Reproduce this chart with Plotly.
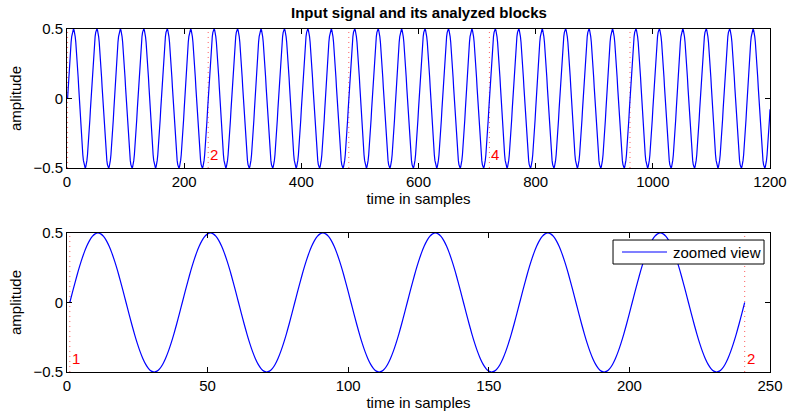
import numpy as np
import plotly.graph_objects as go

# --- data ---
n_samples = 1200
period = 40          # samples per cycle
amplitude = 0.5
block_len = 240
block_starts = [1, 241, 481, 721, 961]
top_labels = ["2", "4"]
top_label_x = [241, 721]
zoom_label = ["1", "2"]
zoom_label_x = [1, 241]
label_y = -0.4
legend_text = "zoomed view"

t = np.arange(1, n_samples + 1)
signal = amplitude * np.sin(2 * np.pi * (t - 1) / period)
t_zoom = t[:block_len + 1]
sig_zoom = signal[:block_len + 1]

fig = go.Figure()

blue = "#0000ff"
red = "#ff3030"

def vlines(xs):
    X, Y = [], []
    for x in xs:
        X += [x, x, None]
        Y += [-0.5, 0.5, None]
    return X, Y

vx, vy = vlines(block_starts)
fig.add_trace(go.Scatter(x=vx, y=vy, mode="lines", line=dict(color=red, width=0.8, dash="1px,4px"),
                         showlegend=False, xaxis="x", yaxis="y"))
fig.add_trace(go.Scatter(x=t, y=signal, mode="lines", line=dict(color=blue, width=1.2),
                         showlegend=False, xaxis="x", yaxis="y"))

vx2, vy2 = vlines(zoom_label_x)
fig.add_trace(go.Scatter(x=vx2, y=vy2, mode="lines", line=dict(color=red, width=0.8, dash="1px,4px"),
                         showlegend=False, xaxis="x2", yaxis="y2"))
fig.add_trace(go.Scatter(x=t_zoom, y=sig_zoom, mode="lines",
                         line=dict(color=blue, width=1.2, shape="spline", smoothing=0.6),
                         name=legend_text, showlegend=False, xaxis="x2", yaxis="y2"))

annotations = []
for lab, x in zip(top_labels, top_label_x):
    annotations.append(dict(x=x, y=label_y, xref="x", yref="y", text=lab, showarrow=False,
                            xanchor="left", yanchor="middle", xshift=0,
                            font=dict(color="#ff0000", size=15)))
for lab, x in zip(zoom_label, zoom_label_x):
    annotations.append(dict(x=x, y=label_y, xref="x2", yref="y2", text=lab, showarrow=False,
                            xanchor="left", yanchor="middle", xshift=0,
                            font=dict(color="#ff0000", size=15)))
annotations.append(dict(x=0.5, y=1, xref="paper", yref="paper", yshift=6,
                        text="<b>Input signal and its analyzed blocks</b>", showarrow=False,
                        xanchor="center", yanchor="bottom", font=dict(size=15, color="black")))
# manual legend (MATLAB-style box)
annotations.append(dict(x=0.859, y=0.8633, xref="x2 domain", yref="y2 domain", text=legend_text,
                        showarrow=False, xanchor="left", yanchor="middle",
                        font=dict(size=15, color="black")))
shapes = [
    dict(type="rect", xref="x2 domain", yref="y2 domain", x0=0.7767, x1=0.9915, y0=0.777, y1=0.9496,
         line=dict(color="black", width=1), fillcolor="white", layer="above"),
    dict(type="line", xref="x2 domain", yref="y2 domain", x0=0.7895, x1=0.8535, y0=0.8633, y1=0.8633,
         line=dict(color=blue, width=1.2), layer="above"),
]

axis_common = dict(showline=True, linecolor="black", linewidth=1, mirror="ticks",
                   ticks="inside", ticklen=5, tickcolor="black", showgrid=False,
                   zeroline=False, tickfont=dict(size=15, color="black"), automargin=False)

fig.update_layout(
    width=788, height=414,
    margin=dict(l=67, r=18, t=29, b=42),
    paper_bgcolor="white", plot_bgcolor="white",
    font=dict(family="Liberation Sans, Arial, sans-serif", color="black", size=15),
    xaxis=dict(domain=[0, 1], range=[0, 1200], tickvals=[0, 200, 400, 600, 800, 1000, 1200],
               anchor="y", title=dict(text="time in samples", standoff=0, font=dict(size=15)),
               **axis_common),
    yaxis=dict(domain=[0.5948, 1], range=[-0.5, 0.5], tickvals=[-0.5, 0, 0.5],
               ticktext=["\u22120.5", "0", "0.5"], anchor="x",
               title=dict(text="amplitude", standoff=8, font=dict(size=15)), **axis_common),
    xaxis2=dict(domain=[0, 1], range=[0, 250], tickvals=[0, 50, 100, 150, 200, 250],
                anchor="y2", title=dict(text="time in samples", standoff=4, font=dict(size=15)),
                **axis_common),
    yaxis2=dict(domain=[0, 0.4052], range=[-0.5, 0.5], tickvals=[-0.5, 0, 0.5],
                ticktext=["\u22120.5", "0", "0.5"], anchor="x2",
                title=dict(text="amplitude", standoff=8, font=dict(size=15)), **axis_common),
    showlegend=False,
    annotations=annotations,
    shapes=shapes,
)

fig.write_html("out.html")
